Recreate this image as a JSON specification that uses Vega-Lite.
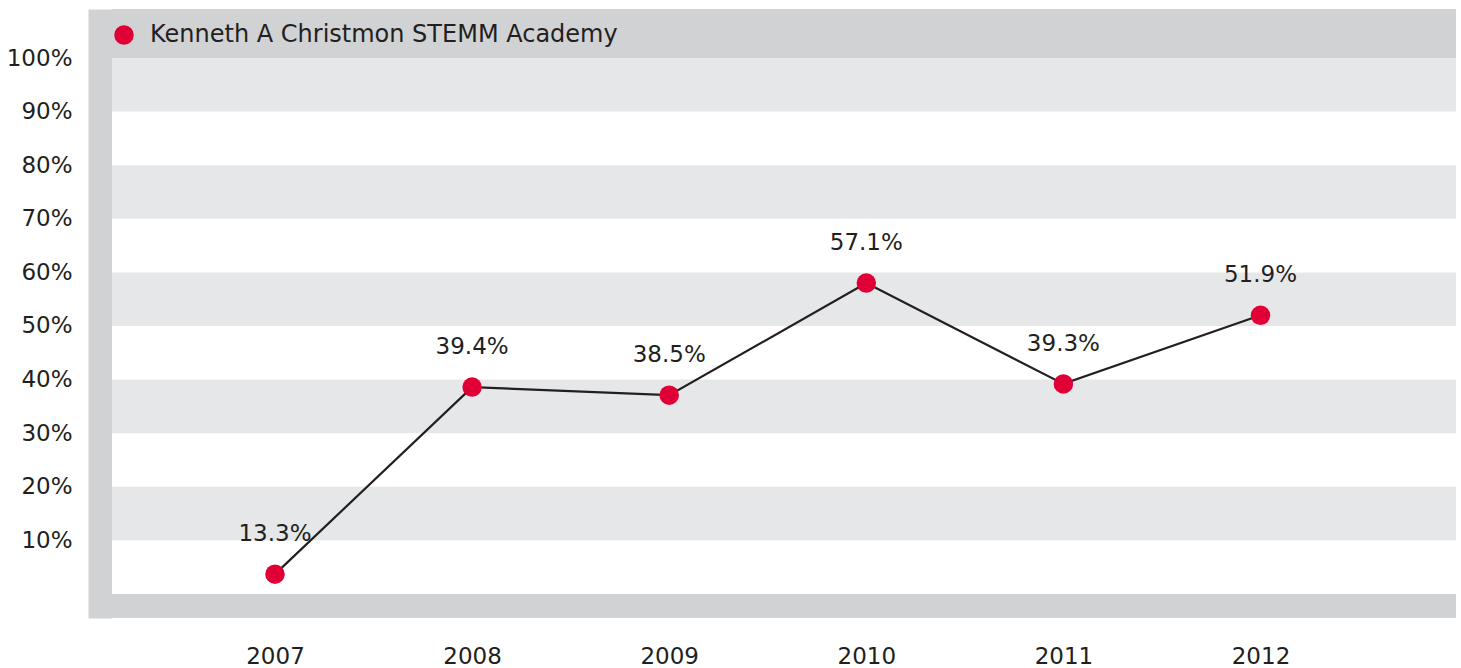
{
  "$schema": "https://vega.github.io/schema/vega-lite/v6.json",
  "width": 1344,
  "height": 609,
  "autosize": {"type": "none"},
  "padding": {"left": 112, "top": 9, "right": 5, "bottom": 50},
  "background": "#ffffff",
  "config": {
    "view": {"fill": "#d1d2d4", "stroke": null},
    "font": "DejaVu Sans"
  },
  "datasets": {
    "base": [{"lo": 0, "hi": 100}],
    "bands": [
      {"lo": 90, "hi": 100},
      {"lo": 70, "hi": 80},
      {"lo": 50, "hi": 60},
      {"lo": 30, "hi": 40},
      {"lo": 10, "hi": 20}
    ],
    "series": [
      {"year": 2007, "pct": 3.7, "label": "13.3%", "school": "Kenneth A Christmon STEMM Academy"},
      {"year": 2008, "pct": 38.6, "label": "39.4%", "school": "Kenneth A Christmon STEMM Academy"},
      {"year": 2009, "pct": 37.1, "label": "38.5%", "school": "Kenneth A Christmon STEMM Academy"},
      {"year": 2010, "pct": 58.0, "label": "57.1%", "school": "Kenneth A Christmon STEMM Academy"},
      {"year": 2011, "pct": 39.2, "label": "39.3%", "school": "Kenneth A Christmon STEMM Academy"},
      {"year": 2012, "pct": 52.0, "label": "51.9%", "school": "Kenneth A Christmon STEMM Academy"}
    ]
  },
  "layer": [
    {
      "data": {"name": "base"},
      "mark": {"type": "rect", "fill": "#ffffff"},
      "encoding": {
        "y": {"field": "lo", "type": "quantitative", "scale": {"domain": [-4.478, 109.142], "nice": false, "zero": false},
          "axis": {
            "values": [10, 20, 30, 40, 50, 60, 70, 80, 90, 100],
            "labelExpr": "datum.value + '%'",
            "title": null,
            "grid": false,
            "ticks": false,
            "tickSize": 0,
            "domain": true,
            "domainColor": "#d1d2d4",
            "domainWidth": 24,
            "offset": 12,
            "labelPadding": 28,
            "labelFontSize": 23,
            "labelColor": "#231f20",
            "labelFont": "DejaVu Sans",
            "labelFontWeight": "normal"
          }
        },
        "y2": {"field": "hi"}
      }
    },
    {
      "data": {"name": "bands"},
      "mark": {"type": "rect", "fill": "#e6e7e8"},
      "encoding": {
        "y": {"field": "lo", "type": "quantitative"},
        "y2": {"field": "hi"}
      }
    },
    {
      "data": {"name": "series"},
      "mark": {"type": "line", "color": "#231f20", "strokeWidth": 2.2},
      "encoding": {
        "x": {"field": "year", "type": "quantitative", "scale": {"domain": [2006.173, 2012.9919], "nice": false, "zero": false},
          "axis": {
            "values": [2007, 2008, 2009, 2010, 2011, 2012],
            "format": "d",
            "title": null,
            "grid": false,
            "ticks": false,
            "tickSize": 0,
            "domain": false,
            "labelPadding": 27,
            "labelFontSize": 23,
            "labelColor": "#231f20",
            "labelFont": "DejaVu Sans"
          }
        },
        "y": {"field": "pct", "type": "quantitative"}
      }
    },
    {
      "data": {"name": "series"},
      "mark": {"type": "point", "filled": true, "opacity": 1, "size": 380},
      "encoding": {
        "x": {"field": "year", "type": "quantitative"},
        "y": {"field": "pct", "type": "quantitative"},
        "color": {"field": "school", "type": "nominal", "scale": {"range": ["#e10035"]},
          "legend": {
            "title": null,
            "orient": "none",
            "legendX": 0,
            "legendY": 14,
            "padding": 0,
            "symbolType": "circle",
            "symbolSize": 380,
            "symbolStrokeWidth": 0,
            "labelFontSize": 24,
            "labelFont": "DejaVu Sans",
            "labelColor": "#231f20",
            "labelOffset": 14,
            "labelLimit": 800
          }
        }
      }
    },
    {
      "data": {"name": "series"},
      "mark": {"type": "text", "dy": -40, "fontSize": 23, "color": "#231f20", "baseline": "middle", "align": "center", "font": "DejaVu Sans"},
      "encoding": {
        "x": {"field": "year", "type": "quantitative"},
        "y": {"field": "pct", "type": "quantitative"},
        "text": {"field": "label"}
      }
    }
  ]
}
